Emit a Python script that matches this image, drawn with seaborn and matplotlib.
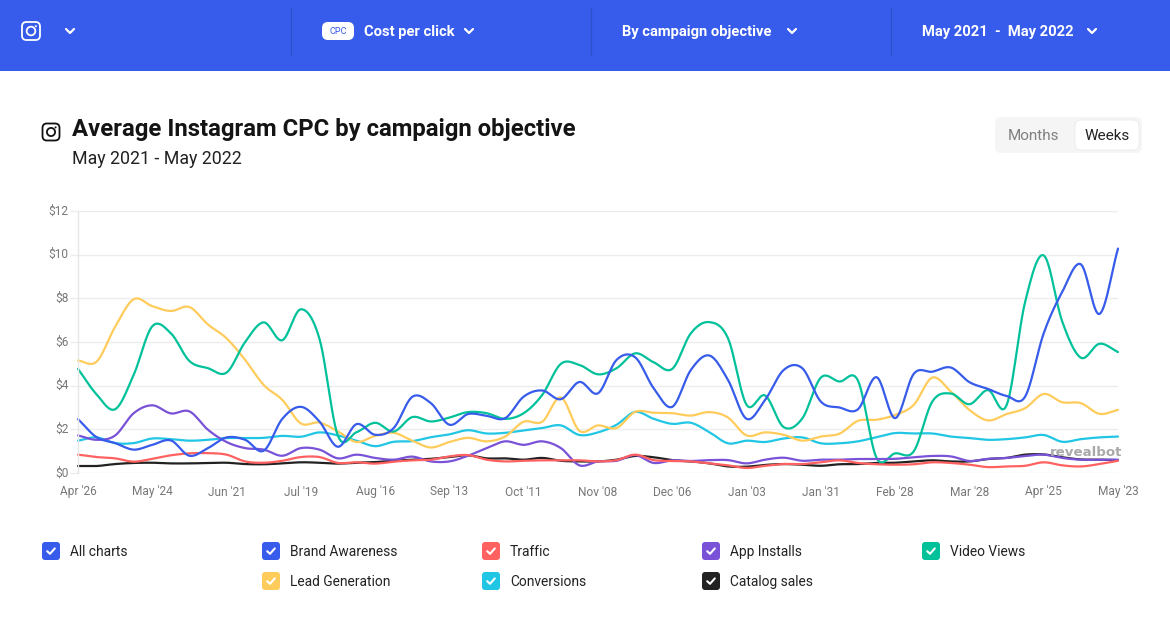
import numpy as np
import pandas as pd
import matplotlib
matplotlib.use("Agg")
import matplotlib.pyplot as plt
from matplotlib.patches import FancyBboxPatch, Rectangle, Circle
import seaborn as sns

tick_labels = ["Apr '26", "May '24", "Jun '21", "Jul '19", "Aug '16", "Sep '13", "Oct '11", "Nov '08",
               "Dec '06", "Jan '03", "Jan '31", "Feb '28", "Mar '28", "Apr '25", "May '23"]
y_labels = ["$0", "$2", "$4", "$6", "$8", "$10", "$12"]

brand_awareness = [2.47,1.64,1.37,1.07,1.29,1.49,0.79,1.14,1.63,1.52,1.02,2.48,3.03,2.36,1.2,2.24,1.75,2.06,3.49,3.2,
                   2.21,2.7,2.62,2.51,3.5,3.78,3.38,4.17,3.65,5.18,5.3,3.88,3.03,4.72,5.38,4.26,2.48,3.35,4.72,4.8,
                   3.27,3.0,2.92,4.39,2.51,4.54,4.64,4.83,4.16,3.85,3.53,3.5,6.4,8.3,9.56,7.28,10.28]
traffic = [0.84,0.73,0.67,0.52,0.65,0.81,0.9,0.91,0.84,0.53,0.47,0.56,0.73,0.73,0.46,0.49,0.43,0.52,0.58,0.61,
           0.76,0.82,0.61,0.53,0.56,0.58,0.58,0.58,0.53,0.59,0.84,0.59,0.55,0.53,0.44,0.35,0.23,0.33,0.41,0.41,
           0.49,0.58,0.46,0.4,0.38,0.4,0.49,0.46,0.38,0.27,0.3,0.33,0.49,0.35,0.3,0.41,0.56]
app_installs = [1.72,1.52,1.72,2.74,3.1,2.73,2.82,1.98,1.42,1.14,1.07,0.79,1.14,1.07,0.67,0.84,0.69,0.61,0.75,0.53,
                0.53,0.79,1.14,1.45,1.29,1.45,1.14,0.35,0.53,0.56,0.82,0.46,0.58,0.55,0.59,0.59,0.44,0.61,0.7,0.56,
                0.61,0.61,0.64,0.64,0.65,0.72,0.78,0.76,0.55,0.65,0.69,0.78,0.84,0.69,0.61,0.61,0.61]
video_views = [4.77,3.6,2.92,4.5,6.72,6.4,5.13,4.8,4.6,6.0,6.9,6.08,7.5,6.15,1.7,1.87,2.3,1.9,2.56,2.36,
               2.54,2.79,2.74,2.48,2.74,3.58,5.0,4.95,4.52,4.8,5.48,5.07,4.77,6.4,6.91,6.17,3.12,3.55,2.1,2.5,
               4.37,4.19,4.23,0.69,0.9,0.99,3.27,3.64,3.15,3.8,3.1,7.84,9.97,6.93,5.28,5.92,5.54]
lead_generation = [5.15,5.1,6.7,7.96,7.64,7.42,7.6,6.8,6.17,5.18,4.03,3.35,2.27,2.31,1.9,1.42,1.7,1.84,1.48,1.17,
                   1.42,1.61,1.45,1.67,2.35,2.35,3.46,1.93,2.18,2.06,2.8,2.76,2.74,2.63,2.79,2.54,1.72,1.86,1.75,1.48,
                   1.67,1.8,2.39,2.44,2.66,3.12,4.37,3.73,2.89,2.41,2.7,2.97,3.62,3.24,3.2,2.71,2.89]
conversions = [1.48,1.63,1.37,1.37,1.58,1.55,1.48,1.52,1.6,1.6,1.61,1.7,1.66,1.86,1.72,1.48,1.23,1.43,1.46,1.64,
               1.77,1.96,1.81,1.84,1.95,2.06,2.18,1.74,1.86,2.21,2.8,2.48,2.25,2.3,1.87,1.36,1.48,1.42,1.58,1.63,
               1.36,1.36,1.45,1.64,1.83,1.81,1.81,1.67,1.6,1.52,1.55,1.63,1.74,1.43,1.55,1.63,1.67]
catalog_sales = [0.32,0.32,0.41,0.46,0.47,0.44,0.44,0.46,0.47,0.41,0.4,0.44,0.49,0.47,0.43,0.47,0.5,0.56,0.61,0.65,
                 0.73,0.81,0.67,0.67,0.61,0.69,0.56,0.53,0.53,0.61,0.78,0.72,0.59,0.53,0.44,0.3,0.29,0.37,0.41,0.38,
                 0.33,0.4,0.41,0.46,0.47,0.53,0.58,0.53,0.53,0.64,0.69,0.84,0.85,0.72,0.62,0.61,0.59]

# draw order (first = bottom) and colours
series = {"Catalog sales": catalog_sales, "Conversions": conversions, "Lead Generation": lead_generation,
          "Video Views": video_views, "App Installs": app_installs, "Traffic": traffic,
          "Brand Awareness": brand_awareness}
colors = {"Brand Awareness": "#375BEA", "Traffic": "#FF6161", "App Installs": "#7952D8", "Video Views": "#00C19A",
          "Lead Generation": "#FFCC5C", "Conversions": "#20C6E4", "Catalog sales": "#222222"}

def smooth(values, sub=12):
    """Display-only cubic (cardinal) curve through the weekly values."""
    y = np.asarray(values, float)
    n = len(y)
    t = np.zeros(n)
    t[1:-1] = (y[2:] - y[:-2]) / 2
    t[0] = y[1] - y[0]
    t[-1] = y[-1] - y[-2]
    xs, ys = [], []
    u = np.linspace(0, 1, sub, endpoint=False)
    for i in range(n - 1):
        h00 = 2*u**3 - 3*u**2 + 1; h10 = u**3 - 2*u**2 + u
        h01 = -2*u**3 + 3*u**2;    h11 = u**3 - u**2
        ys.append(h00*y[i] + h10*t[i] + h01*y[i+1] + h11*t[i+1])
        xs.append(i + u)
    return np.r_[np.concatenate(xs), n-1], np.r_[np.concatenate(ys), y[-1]]

frames = []
for name, vals in series.items():
    x, y = smooth(vals)
    frames.append(pd.DataFrame({"week": x, "cpc": y, "objective": name}))
data = pd.concat(frames, ignore_index=True)

sns.set_theme(style="white")
plt.rcParams["font.family"] = ["Roboto", "DejaVu Sans"]

W, H = 1170, 635
fig = plt.figure(figsize=(W/100, H/100), dpi=100, facecolor="white")
L, R, T, B = 78, 1118, 211, 473
ax = fig.add_axes([L/W, 1-B/H, (R-L)/W, (B-T)/H])
sns.lineplot(data=data, x="week", y="cpc", hue="objective", hue_order=list(series), palette=colors,
             estimator=None, sort=False, linewidth=1.6, legend=False, ax=ax, clip_on=False)
n_weeks = len(brand_awareness) - 1
ax.set_xlim(0, n_weeks)
ax.set_ylim(0, 12)
ax.set_xticks(np.arange(0, n_weeks + 1, 4), tick_labels)
ax.set_yticks(np.arange(0, 13, 2), y_labels)
ax.set_xlabel(""); ax.set_ylabel("")
ax.grid(axis="y", color="#EDEDED", linewidth=1.0)
ax.set_axisbelow(True)
for s in ["top", "right", "bottom"]:
    ax.spines[s].set_visible(False)
ax.spines["left"].set_color("#E6E6E6")
ax.spines["left"].set_linewidth(1.0)
ax.tick_params(axis="y", length=6, width=1, color="#EDEDED", labelcolor="#777777", labelsize=8.6, pad=0.8, left=True)
ax.tick_params(axis="x", length=0, labelcolor="#777777", labelsize=8.6, pad=9)
for lab in ax.get_yticklabels():
    lab.set_verticalalignment("center")
ax.patch.set_alpha(0)

ov = fig.add_axes([0, 0, 1, 1], zorder=5)
ov.set_xlim(0, W); ov.set_ylim(H, 0); ov.axis("off")

def rbox(x, y, w, h, r, **kw):
    p = FancyBboxPatch((x+r, y+r), w-2*r, h-2*r, boxstyle=f"round,pad={r},rounding_size={r}", **kw)
    ov.add_patch(p)
    return p

def chevron(cx, cy, c="white"):
    ov.plot([cx-4, cx, cx+4], [cy-2, cy+2, cy-2], color=c, lw=1.6, solid_capstyle="round", solid_joinstyle="round")

def insta(cx, cy, c, size=18):
    rbox(cx-size/2, cy-size/2, size, size, 4.5, fc="none", ec=c, lw=1.3)
    ov.add_patch(Circle((cx, cy), size*0.24, fc="none", ec=c, lw=1.3))
    ov.add_patch(Circle((cx+size*0.27, cy-size*0.27), 1.0, fc=c, ec="none"))

# header band
BLUE = "#375BEA"
ov.add_patch(Rectangle((0, 0), W, 71, fc=BLUE, ec="none"))
for x in [291, 591, 891]:
    ov.plot([x, x], [8, 55], color="#2F4FC9", lw=0.8)
insta(31, 31, "white")
chevron(70, 31)
rbox(322, 22, 32, 18, 6, fc="white", ec="none")
ov.text(338, 30.5, "CPC", color=BLUE, fontsize=6.6, ha="center", va="center_baseline")
hdr = dict(color="white", fontsize=10.65, fontweight="bold", va="center_baseline")
ov.text(364, 30.5, "Cost per click", **hdr)
chevron(469, 31)
ov.text(622, 30.5, "By campaign objective", **hdr)
chevron(792, 31)
ov.text(922, 30.5, "May 2021  -  May 2022", **hdr)
chevron(1092, 31)

# title block
insta(51, 132, "#111111", 17)
ov.text(72, 127, "Average Instagram CPC by campaign objective", color="#141414", fontsize=17.22,
        fontweight="bold", va="center_baseline")
ov.text(72, 156.5, "May 2021 - May 2022", color="#222222", fontsize=12.75, va="center_baseline")

# toggle
rbox(995, 117, 147, 36, 6, fc="#F5F5F5", ec="none")
rbox(1075, 120, 64, 30, 6, fc="white", ec="#EAEAEA", lw=0.6)
ov.text(1033.5, 135, "Months", color="#808080", fontsize=11, ha="center", va="center_baseline")
ov.text(1107, 135, "Weeks", color="#222222", fontsize=11, ha="center", va="center_baseline")

# watermark
ov.text(1122, 451, "revealbot", color="#A9A9A9", fontsize=9.6, fontweight="bold", family="DejaVu Sans",
        ha="right", va="center_baseline")

# legend
legend_items = [("All charts", "#375BEA", 42, 551), ("Brand Awareness", colors["Brand Awareness"], 262, 551),
                ("Traffic", colors["Traffic"], 482, 551), ("App Installs", colors["App Installs"], 702, 551),
                ("Video Views", colors["Video Views"], 922, 551), ("Lead Generation", colors["Lead Generation"], 262, 581),
                ("Conversions", colors["Conversions"], 482, 581), ("Catalog sales", colors["Catalog sales"], 702, 581)]
for label, col, x, y in legend_items:
    rbox(x, y-9, 18, 18, 3, fc=col, ec="none")
    ov.plot([x+5.2, x+8, x+12.8], [y+0.2, y+2.8, y-2.6], color="white", lw=1.5,
            solid_capstyle="round", solid_joinstyle="round")
    ov.text(x+28, y-0.3, label, color="#222222", fontsize=9.95, va="center_baseline")

fig.savefig("out.png", dpi=100, facecolor="white")
